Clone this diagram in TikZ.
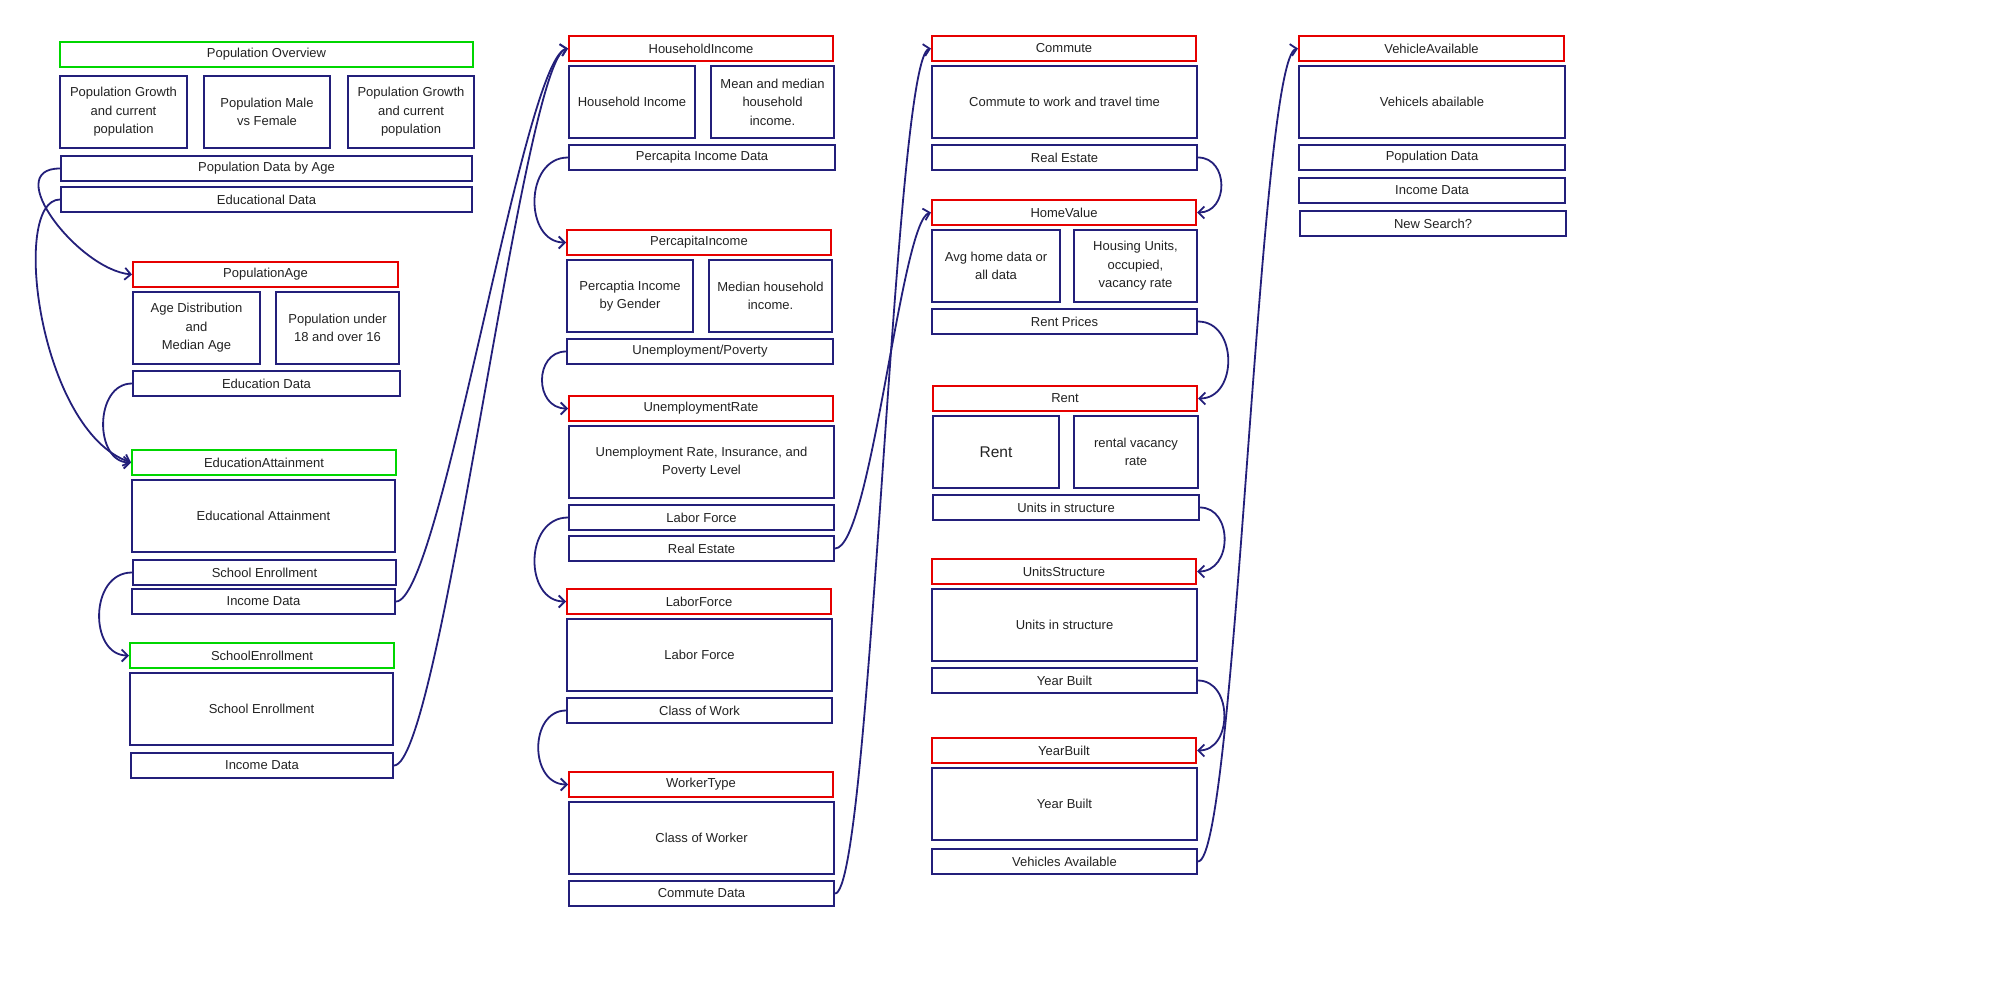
\documentclass[tikz,border=0pt]{standalone}
\usepackage{fontspec}
\setmainfont{Liberation Sans}
\usetikzlibrary{arrows.meta}
\definecolor{navy}{RGB}{35,31,122}
\definecolor{bred}{RGB}{230,0,0}
\definecolor{bgreen}{RGB}{0,214,0}
\definecolor{txt}{RGB}{34,34,34}
\tikzset{
 base/.style={inner sep=0pt, line width=1pt, align=center, text=txt, font=\fontsize{6.5pt}{9.2pt}\selectfont},
 nbox/.style={base, draw=navy},
 rbox/.style={base, draw=bred},
 gbox/.style={base, draw=bgreen},
 conn/.style={draw=navy, line width=0.9pt, -{Straight Barb[length=3pt,width=6pt]}},
}
\newcommand\bx[7]{\node[#2, minimum width={(#5-#3)*0.5pt}, minimum height={(#6-#4)*0.5pt}] (#1) at ({(#3+#5)/2},{(#4+#6)/2}) {#7};}
\begin{document}
\begin{tikzpicture}[x=0.5pt,y=-0.5pt]
\useasboundingbox (0,0) rectangle (2000,1000);
% column 1
\bx{po}{gbox}{60}{42}{473}{67}{Population Overview}
\bx{pga}{nbox}{60}{76}{187}{148}{Population Growth\\and current\\population}
\bx{pmf}{nbox}{204}{76}{330}{148}{Population Male\\vs Female}
\bx{pgb}{nbox}{348}{76}{474}{148}{Population Growth\\and current\\population}
\bx{pda}{nbox}{61}{156}{472}{181}{Population Data by Age}
\bx{ed}{nbox}{61}{187}{472}{212}{Educational Data}
\bx{pa}{rbox}{133}{262}{398}{287}{PopulationAge}
\bx{ad}{nbox}{133}{292}{260}{364}{Age Distribution\\and\\Median Age}
\bx{pu}{nbox}{276}{292}{399}{364}{Population under\\18 and over 16}
\bx{edd}{nbox}{133}{371}{400}{396}{Education Data}
\bx{ea}{gbox}{132}{450}{396}{475}{EducationAttainment}
\bx{eab}{nbox}{132}{480}{395}{552}{Educational Attainment}
\bx{se}{nbox}{133}{560}{396}{585}{School Enrollment}
\bx{ida}{nbox}{132}{589}{395}{614}{Income Data}
\bx{sen}{gbox}{130}{643}{394}{668}{SchoolEnrollment}
\bx{seb}{nbox}{130}{673}{393}{745}{School Enrollment}
\bx{idb}{nbox}{131}{753}{393}{778}{Income Data}
% column 2
\bx{hi}{rbox}{569}{36}{833}{61}{HouseholdIncome}
\bx{hib}{nbox}{569}{66}{695}{138}{Household Income}
\bx{mm}{nbox}{711}{66}{834}{138}{Mean and median\\household\\income.}
\bx{pid}{nbox}{569}{145}{835}{170}{Percapita Income Data}
\bx{pci}{rbox}{567}{230}{831}{255}{PercapitaIncome}
\bx{pig}{nbox}{567}{260}{693}{332}{Percaptia Income\\by Gender}
\bx{mh}{nbox}{709}{260}{832}{332}{Median household\\income.}
\bx{up}{nbox}{567}{339}{833}{364}{Unemployment/Poverty}
\bx{ur}{rbox}{569}{396}{833}{421}{UnemploymentRate}
\bx{urb}{nbox}{569}{426}{834}{498}{Unemployment Rate, Insurance, and\\Poverty Level}
\bx{lf}{nbox}{569}{505}{834}{530}{Labor Force}
\bx{reb}{nbox}{569}{536}{834}{561}{Real Estate}
\bx{lfh}{rbox}{567}{589}{831}{614}{LaborForce}
\bx{lfb}{nbox}{567}{619}{832}{691}{Labor Force}
\bx{cw}{nbox}{567}{698}{832}{723}{Class of Work}
\bx{wt}{rbox}{569}{772}{833}{797}{WorkerType}
\bx{cwb}{nbox}{569}{802}{834}{874}{Class of Worker}
\bx{cd}{nbox}{569}{881}{834}{906}{Commute Data}
% column 3
\bx{cm}{rbox}{932}{36}{1196}{61}{Commute}
\bx{cmb}{nbox}{932}{66}{1197}{138}{Commute to work and travel time}
\bx{rec}{nbox}{932}{145}{1197}{170}{Real Estate}
\bx{hv}{rbox}{932}{200}{1196}{225}{HomeValue}
\bx{ah}{nbox}{932}{230}{1060}{302}{Avg home data or\\all data}
\bx{hu}{nbox}{1074}{230}{1197}{302}{Housing Units,\\occupied,\\vacancy rate}
\bx{rp}{nbox}{932}{309}{1197}{334}{Rent Prices}
\bx{rn}{rbox}{933}{386}{1197}{411}{Rent}
\bx{rnb}{nbox}{933}{416}{1059}{488}{\fontsize{7.75pt}{9pt}\selectfont Rent}
\bx{rv}{nbox}{1074}{416}{1198}{488}{rental vacancy\\rate}
\bx{uis}{nbox}{933}{495}{1199}{520}{Units in structure}
\bx{us}{rbox}{932}{559}{1196}{584}{UnitsStructure}
\bx{usb}{nbox}{932}{589}{1197}{661}{Units in structure}
\bx{yb}{nbox}{932}{668}{1197}{693}{Year Built}
\bx{ybh}{rbox}{932}{738}{1196}{763}{YearBuilt}
\bx{ybb}{nbox}{932}{768}{1197}{840}{Year Built}
\bx{va}{nbox}{932}{849}{1197}{874}{Vehicles Available}
% column 4
\bx{vav}{rbox}{1299}{36}{1564}{61}{VehicleAvailable}
\bx{vab}{nbox}{1299}{66}{1565}{138}{Vehicels abailable}
\bx{pdt}{nbox}{1299}{145}{1565}{170}{Population Data}
\bx{idt}{nbox}{1299}{178}{1565}{203}{Income Data}
\bx{ns}{nbox}{1300}{211}{1566}{236}{New Search?}
% connectors
\draw[conn] (pda.west) .. controls +(-60,0) and +(-53,-5) .. (pa.west);
\draw[conn] (ed.west) .. controls +(-50,0) and +(-92,-32) .. (ea.west);
\draw[conn] (edd.west) .. controls +(-38,0) and +(-37,0) .. (ea.west);
\draw[conn] (se.west) .. controls +(-43,0) and +(-40,0) .. (sen.west);
\draw[conn] (ida.east) .. controls +(45,0) and +(-45,10) .. (hi.west);
\draw[conn] (idb.east) .. controls +(47,0) and +(-45,10) .. (hi.west);
\draw[conn] (pid.west) .. controls +(-44,0) and +(-42,0) .. (pci.west);
\draw[conn] (up.west) .. controls +(-32,0) and +(-34,0) .. (ur.west);
\draw[conn] (lf.west) .. controls +(-44,0) and +(-42,0) .. (lfh.west);
\draw[conn] (cw.west) .. controls +(-37,0) and +(-39,0) .. (wt.west);
\draw[conn] (reb.east) .. controls +(36,0) and +(-30,8) .. (hv.west);
\draw[conn] (cd.east) .. controls +(36,0) and +(-37,8) .. (cm.west);
\draw[conn] (rec.east) .. controls +(31,0) and +(32,0) .. (hv.east);
\draw[conn] (rp.east) .. controls +(40,0) and +(40,0) .. (rn.east);
\draw[conn] (uis.east) .. controls +(33,0) and +(36,0) .. (us.east);
\draw[conn] (yb.east) .. controls +(35,0) and +(36,0) .. (ybh.east);
\draw[conn] (va.east) .. controls +(38,0) and +(-39,8) .. (vav.west);
\end{tikzpicture}
\end{document}
